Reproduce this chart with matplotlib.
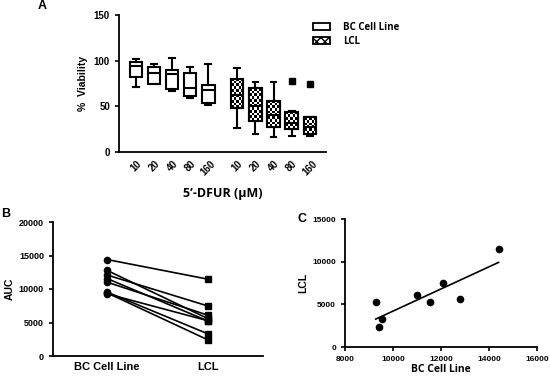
import numpy as np
import matplotlib
matplotlib.use('Agg')
import matplotlib.pyplot as plt
from matplotlib.patches import Rectangle, PathPatch

plt.rcParams['font.family'] = ['Liberation Sans', 'DejaVu Sans']
plt.rcParams['font.weight'] = 'bold'

# panel A: box statistics
conc = ['10', '20', '40', '80', '160']
bc_whislo = [71, 74, 67, 59, 52]
bc_q1 = [82, 75, 69, 61, 54]
bc_med = [94, 87, 85, 70, 68]
bc_q3 = [98, 93, 90, 86, 73]
bc_whishi = [102, 96, 103, 93, 96]

lcl_whislo = [26, 20, 16, 17, 17]
lcl_q1 = [48, 34, 27, 25, 20]
lcl_med = [62, 50, 41, 32, 27]
lcl_q3 = [80, 70, 56, 44, 38]
lcl_whishi = [92, 77, 77, 45, 38]
lcl_fliers = [[], [], [], [78], [75]]

# panels B/C: paired AUC values
auc_bc = [9280, 9430, 9545, 11020, 11560, 12090, 12785, 14400]
auc_lcl = [5260, 2400, 3300, 6085, 5220, 7460, 5575, 11465]

calibri_like = ['Open Sans', 'DejaVu Sans']

fig = plt.figure(figsize=(5.5, 3.76), dpi=100)


def style_axes(ax, size):
    for s in ['top', 'right']:
        ax.spines[s].set_visible(False)
    for s in ['left', 'bottom']:
        ax.spines[s].set_linewidth(1.3)
    ax.tick_params(width=1.2, length=3, labelsize=size)


def checker(ax, patch, cell=2.7):
    bb = patch.get_path().get_extents()
    x0, y0 = ax.transData.transform((bb.x0, bb.y0))
    x1, y1 = ax.transData.transform((bb.x1, bb.y1))
    nx = max(int(round((x1 - x0) / cell)), 1)
    ny = max(int(round((y1 - y0) / cell)), 1)
    grid = (np.indices((ny, nx)).sum(axis=0) % 2).astype(float)
    im = ax.imshow(grid, cmap='gray', extent=(bb.x0, bb.x1, bb.y0, bb.y1),
                   interpolation='nearest', aspect='auto', zorder=2, vmin=0, vmax=1)
    im.set_clip_path(patch)


# ---- panel A ----
axA = fig.add_axes([119 / 550, 1 - 152 / 376, 207 / 550, 137 / 376])
style_axes(axA, 7)
pos_bc = np.arange(1, 6)
pos_lcl = np.arange(1, 6) + 5.6

stats_bc = [dict(whislo=a, q1=b, med=c, q3=d, whishi=e, fliers=[])
            for a, b, c, d, e in zip(bc_whislo, bc_q1, bc_med, bc_q3, bc_whishi)]
stats_lcl = [dict(whislo=a, q1=b, med=c, q3=d, whishi=e, fliers=f)
             for a, b, c, d, e, f in zip(lcl_whislo, lcl_q1, lcl_med, lcl_q3, lcl_whishi, lcl_fliers)]

lw = 1.5
common = dict(widths=0.68, capwidths=0.32, patch_artist=True,
              whiskerprops=dict(lw=lw), capprops=dict(lw=lw),
              medianprops=dict(color='black', lw=lw),
              flierprops=dict(marker='s', markerfacecolor='black', markeredgecolor='black', markersize=4.5))
bA = axA.bxp(stats_bc, positions=pos_bc, boxprops=dict(facecolor='white', edgecolor='black', lw=lw), **common)
bL = axA.bxp(stats_lcl, positions=pos_lcl, boxprops=dict(facecolor='white', edgecolor='black', lw=lw), **common)

axA.set_xlim(0.06, 11.5)
axA.set_ylim(0, 150)
axA.set_yticks([0, 50, 100, 150])
axA.set_xticks(list(pos_bc) + list(pos_lcl))
axA.set_xticklabels(conc + conc, rotation=45, ha='center')
axA.tick_params(axis='x', length=0, pad=5)

for p in bL['boxes']:
    checker(axA, p)
    axA.add_patch(PathPatch(p.get_path(), facecolor='none', edgecolor='black', lw=lw, zorder=3))
axA.set_xlim(0.06, 11.5)
axA.set_ylim(0, 150)

axA.set_ylabel('%  Viability', labelpad=4, fontsize=7.5, fontweight='bold')
axA.set_xlabel('5\u2019-DFUR (\u03bcM)', labelpad=7, family=calibri_like,
               fontweight='bold', fontsize=9)
axA.text(-0.372, 1.11, 'A', transform=axA.transAxes, fontsize=9, fontweight='bold',
         va='top', ha='center')

# legend
leg_bc = Rectangle((0, 0), 1, 1, facecolor='white', edgecolor='black', lw=1.3)
leg_l = Rectangle((0, 0), 1, 1, facecolor='white', edgecolor='black', lw=1.3, hatch='xxxx')
fig.legend([leg_bc, leg_l], ['BC Cell Line', 'LCL'], loc='upper left',
           bbox_to_anchor=(304 / 550, 1 - 13 / 376), frameon=False,
           prop=dict(family=calibri_like, weight='bold', size=7),
           handlelength=1.8, handleheight=0.8, labelspacing=0.3, handletextpad=1.3)

# ---- panel B ----
axB = fig.add_axes([53 / 550, 1 - 356 / 376, 210 / 550, 134 / 376])
style_axes(axB, 6.5)
for a, b in zip(auc_bc, auc_lcl):
    axB.plot([0, 1], [a, b], color='black', lw=1.2, zorder=2)
axB.plot(np.zeros(len(auc_bc)), auc_bc, 'o', color='black', markersize=4.5, zorder=3)
axB.plot(np.ones(len(auc_lcl)), auc_lcl, 's', color='black', markersize=4.5, zorder=3)
axB.set_xlim(-0.535, 1.545)
axB.set_ylim(0, 20000)
axB.set_yticks([0, 5000, 10000, 15000, 20000])
axB.set_xticks([0, 1])
axB.set_xticklabels(['BC Cell Line', 'LCL'], fontsize=8)
axB.tick_params(axis='x', length=0, pad=4)
axB.set_ylabel('AUC', labelpad=3, fontsize=7.5, fontweight='bold')
axB.text(-0.245, 1.06, 'B', transform=axB.transAxes, fontsize=9, fontweight='bold',
         va='center', ha='left')

# ---- panel C ----
axC = fig.add_axes([345 / 550, 1 - 347 / 376, 192 / 550, 128 / 376])
style_axes(axC, 6)
x = np.array(auc_bc, dtype=float)
y = np.array(auc_lcl, dtype=float)
axC.plot(x, y, 'o', color='black', markersize=4.5)
slope, icpt = np.polyfit(x, y, 1)
xl = np.array([x.min(), x.max()])
axC.plot(xl, slope * xl + icpt, color='black', lw=1.2)
axC.set_xlim(8000, 16000)
axC.set_ylim(0, 15000)
axC.set_xticks([8000, 10000, 12000, 14000, 16000])
axC.set_yticks([0, 5000, 10000, 15000])
axC.set_xlabel('BC Cell Line', labelpad=1, family=calibri_like,
               fontweight='bold', fontsize=7.5)
axC.set_ylabel('LCL', labelpad=3, fontsize=7.5, fontweight='bold')
axC.text(-0.224, 1.0, 'C', transform=axC.transAxes, fontsize=9, fontweight='bold',
         va='center', ha='center')

fig.savefig('out.png', dpi=100)
